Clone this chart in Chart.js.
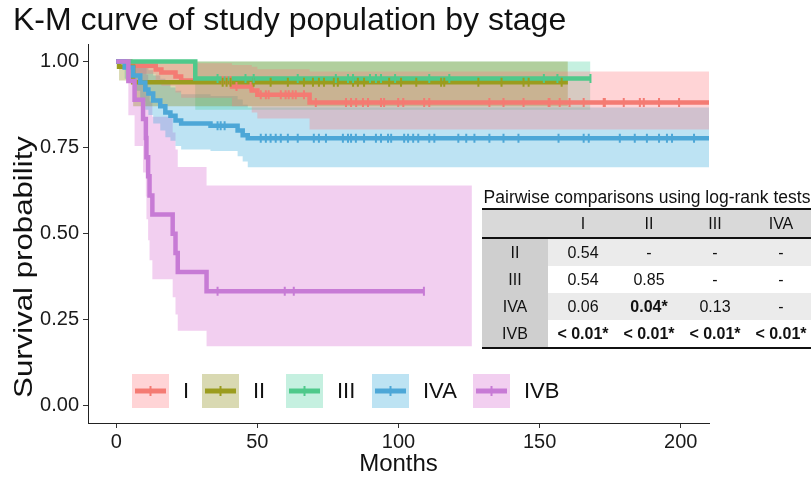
<!DOCTYPE html>
<html>
<head>
<meta charset="utf-8">
<script src="https://cdn.jsdelivr.net/npm/chart.js@4.4.1/dist/chart.umd.min.js"></script>
<style>
  body { margin: 0; background: #fff; }
  #wrap { position: relative; width: 811px; height: 479px; overflow: hidden; font-family: "Liberation Sans", Arial, sans-serif; }
  #pw { position: absolute; left: 482px; top: 186px; width: 330px; color: #111; }
  #pw .cap { font-size: 17.5px; height: 22px; line-height: 22px; text-align: center; white-space: nowrap; }
  #pw table { border-collapse: collapse; table-layout: fixed; width: 330px; font-size: 16px; border-top: 2px solid #111; border-bottom: 2px solid #111; }
  #pw td, #pw th { height: 27px; padding: 0; text-align: center; font-weight: normal; white-space: nowrap; }
  #pw tr.hd th { background: #d9d9d9; border-bottom: 2px solid #111; }
  #pw td.rl { background: #cfcfcf; }
  #pw tr.odd td { background: #ebebeb; }
  #pw tr.odd td.rl { background: #cfcfcf; }
  #pw b { font-weight: bold; }
</style>
</head>
<body>
<div id="wrap">
  <canvas id="km" width="811" height="479"></canvas>
  <div id="pw">
    <div class="cap">Pairwise comparisons using log-rank tests</div>
    <table id="ptab"></table>
  </div>
</div>
<script>
// ---- data ----
var stageNames = ['I', 'II', 'III', 'IVA', 'IVB']

// stage I
var iTime = [0, 5, 14, 16, 21, 23, 41, 48, 50, 68.5, 210]
var iSurv = [1, 0.988, 0.977, 0.968, 0.957, 0.945, 0.928, 0.916, 0.904, 0.881, 0.881]
var iLow = [1, 0.965, 0.945, 0.93, 0.91, 0.895, 0.87, 0.852, 0.835, 0.803, 0.803]
var iUpp = [1, 1, 1, 1, 1, 0.995, 0.99, 0.985, 0.978, 0.971, 0.971]
var iCens = [37.7, 39.1, 40.5, 42.6, 47.6, 51.2, 53, 54, 58.3, 60, 61.1, 62.5, 63.6, 66.5, 70.7, 81.4, 83.2, 85, 87.4, 89.2, 93.8, 94.9, 99.9, 101.7, 109.1, 110.9, 132.2, 137.2, 144.3, 153.2, 153.5, 157.1, 160.6, 165.6, 172.7, 173.1, 179.8, 185.5, 186.9, 192.3, 199.4]
var iLineEnd = 210

// stage II
var iiTime = [0, 1, 6, 160]
var iiSurv = [1, 0.985, 0.94, 0.94]
var iiLow = [1, 0.945, 0.87, 0.87]
var iiUpp = [1, 1, 1, 1]
var iiCens = [37.7, 39.1, 40.5, 48.7, 54.7, 60.8, 66.5, 69.7, 71.8, 73.6, 77.1, 78.5, 83.9, 85.6, 87.8, 96.7, 100.9, 106.3, 115.1, 116.2, 128.3, 136.5, 144.3, 146.1, 157.8]
var iiLineEnd = 160

// stage III
var iiiTime = [0, 28, 168]
var iiiSurv = [1, 0.951, 0.951]
var iiiLow = [1, 0.86, 0.86]
var iiiUpp = [1, 1, 1]
var iiiCens = [35.9, 45.8, 48.7, 64.3, 77.8, 82.1, 83.9, 89.9, 92, 93.8, 98.8, 110.9, 118, 151.5, 156.3, 168]
var iiiLineEnd = 168

// stage IVA
var ivaTime = [0, 3, 6, 8.5, 10.3, 11.4, 13.1, 15.6, 17.4, 19.2, 21, 23, 33.4, 43, 44.8, 46.6, 210]
var ivaSurv = [1, 0.983, 0.96, 0.939, 0.919, 0.907, 0.887, 0.87, 0.852, 0.843, 0.829, 0.82, 0.814, 0.8, 0.786, 0.777, 0.777]
var ivaLow = [1, 0.95, 0.915, 0.885, 0.86, 0.845, 0.82, 0.8, 0.78, 0.77, 0.755, 0.745, 0.74, 0.725, 0.71, 0.693, 0.693]
var ivaUpp = [1, 1, 1, 0.995, 0.985, 0.975, 0.96, 0.95, 0.935, 0.925, 0.915, 0.905, 0.9, 0.89, 0.875, 0.867, 0.867]
var ivaCens = [35.9, 37, 38.4, 51.2, 53, 54.7, 56.5, 58.3, 60.8, 64.3, 70, 71.8, 74.3, 80.3, 82.1, 83.2, 84.9, 87.8, 92, 93.8, 96.3, 97.4, 102, 103.4, 105.2, 107, 110.9, 112.7, 121.2, 124, 126.9, 132.2, 137.2, 142.5, 156.7, 165.6, 167.4, 178.4, 183.7, 188, 192.3, 195.1, 196.9, 204.7]
var ivaLineEnd = 210

// stage IVB (band runs past the last drawn step)
var ivbTime = [0, 4.3, 6.5, 9.5, 10.5, 10.7, 11.3, 11.8, 12.8, 20, 21, 21.8, 32, 126]
var ivbSurv = [1, 0.944, 0.889, 0.833, 0.778, 0.722, 0.667, 0.611, 0.556, 0.5, 0.444, 0.389, 0.333, 0.333]
var ivbLow = [1, 0.844, 0.755, 0.678, 0.608, 0.542, 0.481, 0.423, 0.368, 0.315, 0.265, 0.218, 0.173, 0.173]
var ivbUpp = [1, 1, 1, 1, 0.996, 0.962, 0.925, 0.884, 0.84, 0.794, 0.745, 0.694, 0.64, 0.64]
var ivbCens = [35.9, 59.7, 62.9, 109]
var ivbLineEnd = 109

var xTicks = [0, 50, 100, 150, 200]
var yTicks = [0, 0.25, 0.5, 0.75, 1]

// pairwise log-rank p-values
var pCols = ['I', 'II', 'III', 'IVA']
var pRows = ['II', 'III', 'IVA', 'IVB']
var pVals = [
    ['0.54', '-', '-', '-'],
    ['0.54', '0.85', '-', '-'],
    ['0.06', '0.04*', '0.13', '-'],
    ['< 0.01*', '< 0.01*', '< 0.01*', '< 0.01*']
]

// ---- styling ----
var lineColors = ['#f47b73', '#9b9c1e', '#4fc98b', '#4da7d7', '#c77bd5']
var bandColors = ['rgba(255,112,118,0.3)', 'rgba(128,128,0,0.3)', 'rgba(62,205,152,0.3)', 'rgba(38,162,215,0.3)', 'rgba(212,95,205,0.3)']
var keyLeft = [132, 202, 286, 372, 473]
var fontFam = '"Liberation Sans", Arial, sans-serif'

var groups = [
    [iTime, iSurv, iLow, iUpp, iCens, iLineEnd],
    [iiTime, iiSurv, iiLow, iiUpp, iiCens, iiLineEnd],
    [iiiTime, iiiSurv, iiiLow, iiiUpp, iiiCens, iiiLineEnd],
    [ivaTime, ivaSurv, ivaLow, ivaUpp, ivaCens, ivaLineEnd],
    [ivbTime, ivbSurv, ivbLow, ivbUpp, ivbCens, ivbLineEnd]
]

function pts(t, v) {
    return t.map(function (x, j) { return { x: x, y: v[j] } })
}

function survAt(t, s, x) {
    var v = s[0]
    for (var j = 0; j < t.length; j++) {
        if (t[j] <= x) v = s[j]
    }
    return v
}

// step curve cut off at the last follow-up time
function curvePts(t, s, end) {
    var out = []
    t.forEach(function (x, j) {
        if (x < end) out.push({ x: x, y: s[j] })
    })
    out.push({ x: end, y: survAt(t, s, end) })
    return out
}

var datasets = []
groups.forEach(function (g, i) {
    // confidence band: upper filled down to lower
    datasets.push({
        data: pts(g[0], g[3]), stepped: true, borderWidth: 0, pointRadius: 0,
        fill: '+1', backgroundColor: bandColors[i], order: 40
    })
    datasets.push({
        data: pts(g[0], g[2]), stepped: true, borderWidth: 0, pointRadius: 0,
        fill: false, order: 40
    })
    datasets.push({
        label: stageNames[i], data: curvePts(g[0], g[1], g[5]), stepped: true,
        borderColor: lineColors[i], borderWidth: 4.5, borderCapStyle: 'butt',
        pointRadius: 0, fill: false, order: 20 - i
    })
    datasets.push({
        data: g[4].map(function (x) { return { x: x, y: survAt(g[0], g[1], x) } }),
        showLine: false, pointStyle: 'line', pointRotation: 90, pointRadius: 4.5,
        pointBorderWidth: 2, borderColor: lineColors[i], pointBorderColor: lineColors[i],
        order: 10 - i
    })
})

var keysPlugin = {
    id: 'keys',
    afterDraw: function (chart) {
        var ctx = chart.ctx
        ctx.save()
        stageNames.forEach(function (name, i) {
            var x = keyLeft[i], y = 374
            ctx.fillStyle = bandColors[i]
            ctx.fillRect(x, y, 37, 34)
            ctx.strokeStyle = lineColors[i]
            ctx.lineWidth = 5
            ctx.beginPath(); ctx.moveTo(x + 3, y + 17); ctx.lineTo(x + 34, y + 17); ctx.stroke()
            ctx.lineWidth = 2
            ctx.beginPath(); ctx.moveTo(x + 18.5, y + 12); ctx.lineTo(x + 18.5, y + 22); ctx.stroke()
            ctx.fillStyle = '#111'
            ctx.font = '22px ' + fontFam
            ctx.textBaseline = 'middle'
            ctx.textAlign = 'left'
            ctx.fillText(name, x + 51, y + 18)
        })
        // y axis title (slightly stretched along its length, as in the original)
        ctx.translate(32, 267)
        ctx.rotate(-Math.PI / 2)
        ctx.scale(1.2, 1)
        ctx.font = '26px ' + fontFam
        ctx.textAlign = 'center'
        ctx.textBaseline = 'alphabetic'
        ctx.fillText('Survival probability', 0, 0)
        ctx.restore()
    }
}

var axisGrid = { display: true, drawOnChartArea: false, drawTicks: true, tickLength: 5, tickColor: '#333', tickWidth: 1 }

new Chart(document.getElementById('km'), {
    type: 'line',
    data: { datasets: datasets },
    plugins: [keysPlugin],
    options: {
        responsive: false,
        animation: false,
        layout: { padding: { left: 13, right: 102, top: 0, bottom: 0 } },
        plugins: {
            legend: { display: false },
            tooltip: { enabled: false },
            filler: { drawTime: 'beforeDatasetsDraw' },
            title: {
                display: true, text: 'K-M curve of study population by stage', align: 'start',
                color: '#111', font: { family: fontFam, size: 32, weight: 'normal' },
                padding: { top: 2, bottom: 4 }
            }
        },
        scales: {
            x: {
                type: 'linear', min: -10, max: 210,
                afterBuildTicks: function (s) { s.ticks = xTicks.map(function (v) { return { value: v } }) },
                afterFit: function (s) { s.height = 56 },
                grid: axisGrid,
                border: { display: true, color: '#222', width: 1 },
                ticks: { color: '#1a1a1a', font: { family: fontFam, size: 20 }, padding: 2, maxRotation: 0 },
                title: { display: true, text: 'Months', color: '#111', font: { family: fontFam, size: 24 }, padding: { top: 0, bottom: 0 } }
            },
            y: {
                min: -0.05, max: 1.05,
                afterBuildTicks: function (s) { s.ticks = yTicks.map(function (v) { return { value: v } }) },
                afterFit: function (s) { s.width = 75 },
                grid: axisGrid,
                border: { display: true, color: '#222', width: 1 },
                ticks: {
                    color: '#1a1a1a', font: { family: fontFam, size: 20 }, padding: 4,
                    callback: function (v) { return v.toFixed(2) }
                }
            }
        }
    }
})

// build the p-value table
var tab = document.getElementById('ptab')
var html = '<colgroup><col style="width:66px"><col style="width:70px"><col style="width:62px"><col style="width:70px"><col style="width:62px"></colgroup>'
html += '<tr class="hd"><th></th>' + pCols.map(function (c) { return '<th>' + c + '</th>' }).join('') + '</tr>'
pRows.forEach(function (r, k) {
    html += '<tr class="' + (k % 2 === 0 ? 'odd' : 'even') + '"><td class="rl">' + r + '</td>'
    pVals[k].forEach(function (v) {
        html += '<td>' + (v.indexOf('*') >= 0 ? '<b>' + v + '</b>' : v) + '</td>'
    })
    html += '</tr>'
})
tab.innerHTML = html
</script>
</body>
</html>
